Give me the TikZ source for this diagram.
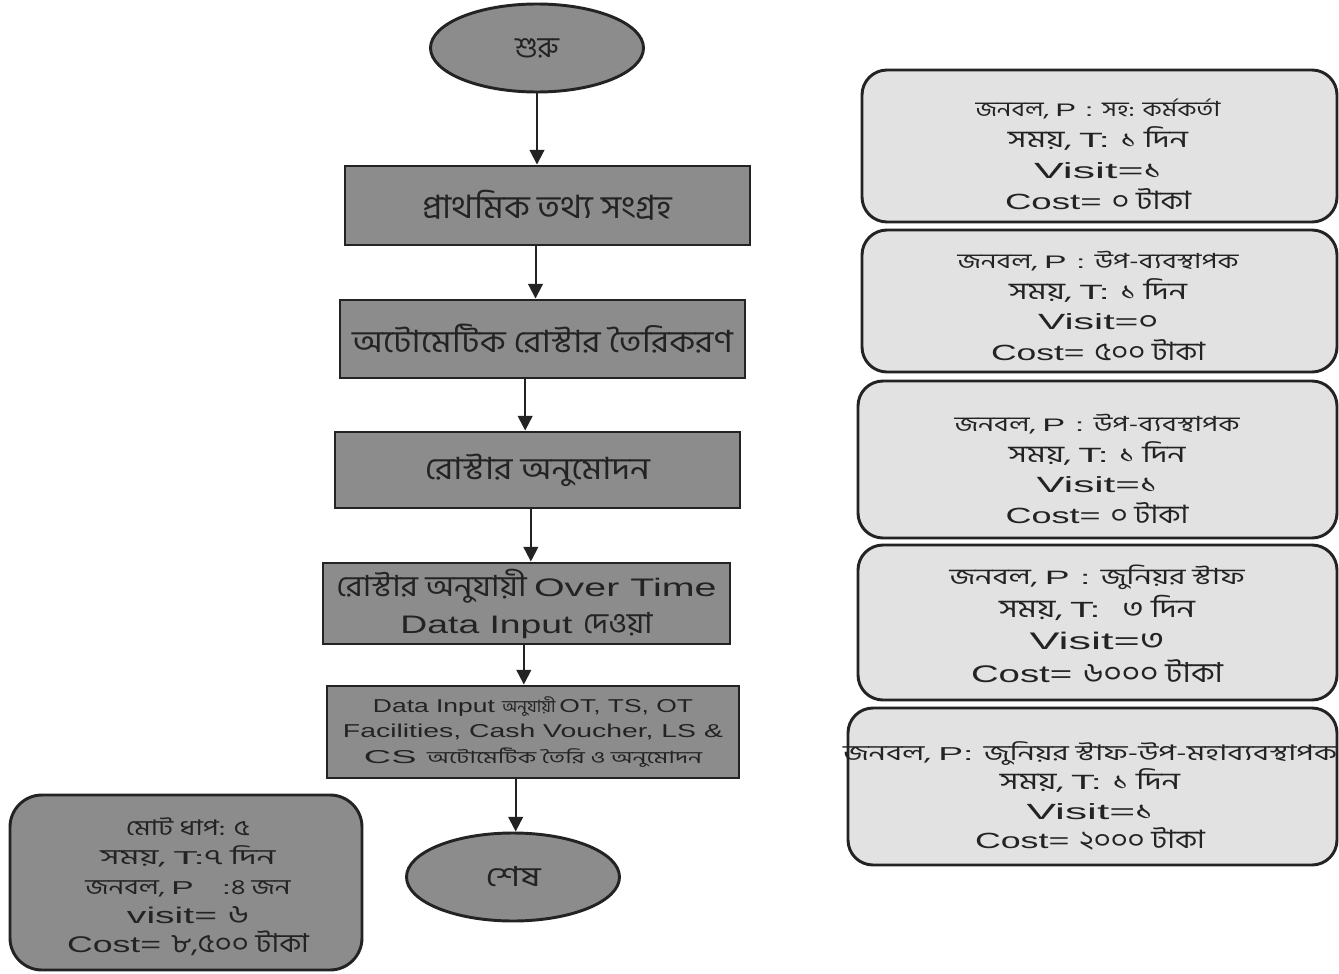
\documentclass[tikz,border=0pt]{standalone}
\usepackage{fontspec}
\usepackage{graphicx}
\setmainfont[FakeStretch=1.6]{Liberation Sans}
\newfontfamily\bn[Script=Bengali,Scale=1.15,FakeStretch=1.15]{Hind Siliguri}
\usetikzlibrary{arrows.meta,shapes.geometric}
\newlength\px \setlength\px{0.75pt}
\newcommand\wl[2]{\resizebox{#1\px}{\height}{#2}}
\newcommand\fz[1]{\fontsize{#1}{#1}\selectfont}
\definecolor{darkfill}{RGB}{140,140,140}
\definecolor{lightfill}{RGB}{226,226,226}
\definecolor{edge}{RGB}{35,35,35}
\definecolor{ink}{RGB}{35,35,35}
\begin{document}
\begin{tikzpicture}[x=0.75pt,y=-0.75pt,
  proc/.style={draw=edge, line width=2.2pt, fill=darkfill, text=ink, align=center, inner sep=0pt},
  term/.style={ellipse, draw=edge, line width=2.2pt, fill=darkfill, text=ink, inner sep=0pt, minimum width=213\px, minimum height=88\px},
  rbox/.style={draw=edge, line width=2.2pt, fill=lightfill, rounded corners=25\px, inner sep=0pt},
  sbox/.style={draw=edge, line width=2.2pt, fill=darkfill, rounded corners=32\px, inner sep=0pt},
  txt/.style={align=center, text=ink, inner sep=0pt},
  arr/.style={draw=edge, line width=1.5pt, -{Triangle[width=11pt,length=11pt]}}
]
\useasboundingbox (0,0) rectangle (1339,974);
\fill[white] (0,0) rectangle (1339,974);

% left flow
\node[term] (start) at (537,48) {\wl{44}{\fz{19}\bn শুরু}};
\node[proc, minimum width=405\px, minimum height=79\px] (b1) at (547.5,205.5)
  {\wl{250}{\fz{21}\bn প্রাথমিক তথ্য সংগ্রহ}};
\node[proc, minimum width=405\px, minimum height=78\px] (b2) at (542.5,339)
  {\wl{381}{\fz{20}\bn অটোমেটিক রোস্টার তৈরিকরণ}};
\node[proc, minimum width=405\px, minimum height=76\px] (b3) at (537.5,470)
  {\wl{225}{\fz{20}\bn রোস্টার অনুমোদন}};
\node[proc, minimum width=407\px, minimum height=81\px, font=\fontsize{19}{27.8}\selectfont] (b4) at (526.5,603.5)
  {\wl{380}{\fz{19}\bn রোস্টার অনুযায়ী \rmfamily Over Time}\\
   \wl{252}{\fz{19}Data Input \bn দেওয়া}};
\node[proc, minimum width=412\px, minimum height=92\px, font=\fontsize{14}{19}\selectfont] (b5) at (533,732)
  {\wl{320}{\fz{14}Data Input \fz{11}\bn অনুযায়ী \fz{14}\rmfamily OT, TS, OT}\\
   \wl{380}{\fz{14}Facilities, Cash Voucher, LS \&}\\
   \wl{338}{\fz{14}CS \fz{11}\bn অটোমেটিক তৈরি ও অনুমোদন}};
\node[term] (end) at (513,877) {\wl{55}{\fz{18}\bn শেষ}};

\draw[arr] (start.south) -- (start.south |- b1.north);
\draw[arr] ([xshift=-9pt]b1.south) -- ([xshift=-9pt]b1.south |- b2.north);
\draw[arr] ([xshift=-13pt]b2.south) -- ([xshift=-13pt]b2.south |- b3.north);
\draw[arr] ([xshift=-5pt]b3.south) -- ([xshift=-5pt]b3.south |- b4.north);
\draw[arr] ([xshift=-2pt]b4.south) -- ([xshift=-2pt]b4.south |- b5.north);
\draw[arr] ([xshift=-13pt]b5.south) -- ([xshift=-13pt]b5.south |- end.north);

% summary box
\node[sbox, minimum width=352\px, minimum height=175\px] (sum) at (186,882.5) {};
\node[txt, font=\fontsize{17}{22}\selectfont] (sumt) at (188,887)
  {\wl{124}{\fz{14}\bn মোট ধাপ: ৫}\\
   \wl{175}{\fz{14}\bn সময়, \rmfamily T:\bn ৭ দিন}\\
   \wl{205}{\fz{14}\bn জনবল, \rmfamily P \ \ :\bn ৪ জন}\\
   \wl{122}{\fz{17}visit= \bn ৬}\\
   \wl{242}{\fz{17}Cost= \bn ৮,৫০০ টাকা}};

% right boxes
\node[rbox, minimum width=475\px, minimum height=152\px] (r1) at (1099.5,146) {};
\node[txt, font=\fontsize{18}{23.2}\selectfont] (r1t) at (1098,154)
  {\wl{245}{\fz{13.6}\bn জনবল, \rmfamily P : \bn সহ: কর্মকর্তা}\\
   \wl{180}{\fz{15.5}\bn সময়, \rmfamily T: \bn ১ দিন}\\
   \wl{128}{\fz{16.5}Visit=\bn ১}\\
   \wl{186}{\fz{16.5}Cost= \bn ০ টাকা}};

\node[rbox, minimum width=475\px, minimum height=142\px] (r2) at (1099.5,301) {};
\node[txt, font=\fontsize{18}{23.2}\selectfont] (r2t) at (1098,306)
  {\wl{281}{\fz{13.6}\bn জনবল, \rmfamily P : \bn উপ-ব্যবস্থাপক}\\
   \wl{178}{\fz{15.5}\bn সময়, \rmfamily T: \bn ১ দিন}\\
   \wl{120}{\fz{16.5}Visit=\bn ০}\\
   \wl{214}{\fz{16.5}Cost= \bn ৫০০ টাকা}};

\node[rbox, minimum width=479\px, minimum height=157\px] (r3) at (1097.5,459.5) {};
\node[txt, font=\fontsize{18}{23.2}\selectfont] (r3t) at (1097,469)
  {\wl{285}{\fz{13.6}\bn জনবল, \rmfamily P : \bn উপ-ব্যবস্থাপক}\\
   \wl{177}{\fz{15.5}\bn সময়, \rmfamily T: \bn ১ দিন}\\
   \wl{121}{\fz{16.5}Visit=\bn ১}\\
   \wl{183}{\fz{16.5}Cost= \bn ০ টাকা}};

\node[rbox, minimum width=479\px, minimum height=155\px] (r4) at (1097.5,622.5) {};
\node[txt, font=\fontsize{19}{24.4}\selectfont] (r4t) at (1097,624)
  {\wl{295}{\fz{14.5}\bn জনবল, \rmfamily P : \bn জুনিয়র স্টাফ}\\
   \wl{196}{\fz{16.5}\bn সময়, \rmfamily T: \ \bn ৩ দিন}\\
   \wl{135}{\fz{18}Visit=\bn ৩}\\
   \wl{252}{\fz{18}Cost= \bn ৬০০০ টাকা}};

\node[rbox, minimum width=489\px, minimum height=157\px] (r5) at (1092.5,786.5) {};
\node[txt, font=\fontsize{18}{22}\selectfont] (r5t) at (1090,796)
  {\wl{494}{\fz{14}\bn জনবল, \rmfamily P: \bn জুনিয়র স্টাফ-উপ-মহাব্যবস্থাপক}\\
   \wl{180}{\fz{15.5}\bn সময়, \rmfamily T: \bn ১ দিন}\\
   \wl{127}{\fz{16.5}Visit=\bn ১}\\
   \wl{230}{\fz{16.5}Cost= \bn ২০০০ টাকা}};
\end{tikzpicture}
\end{document}
